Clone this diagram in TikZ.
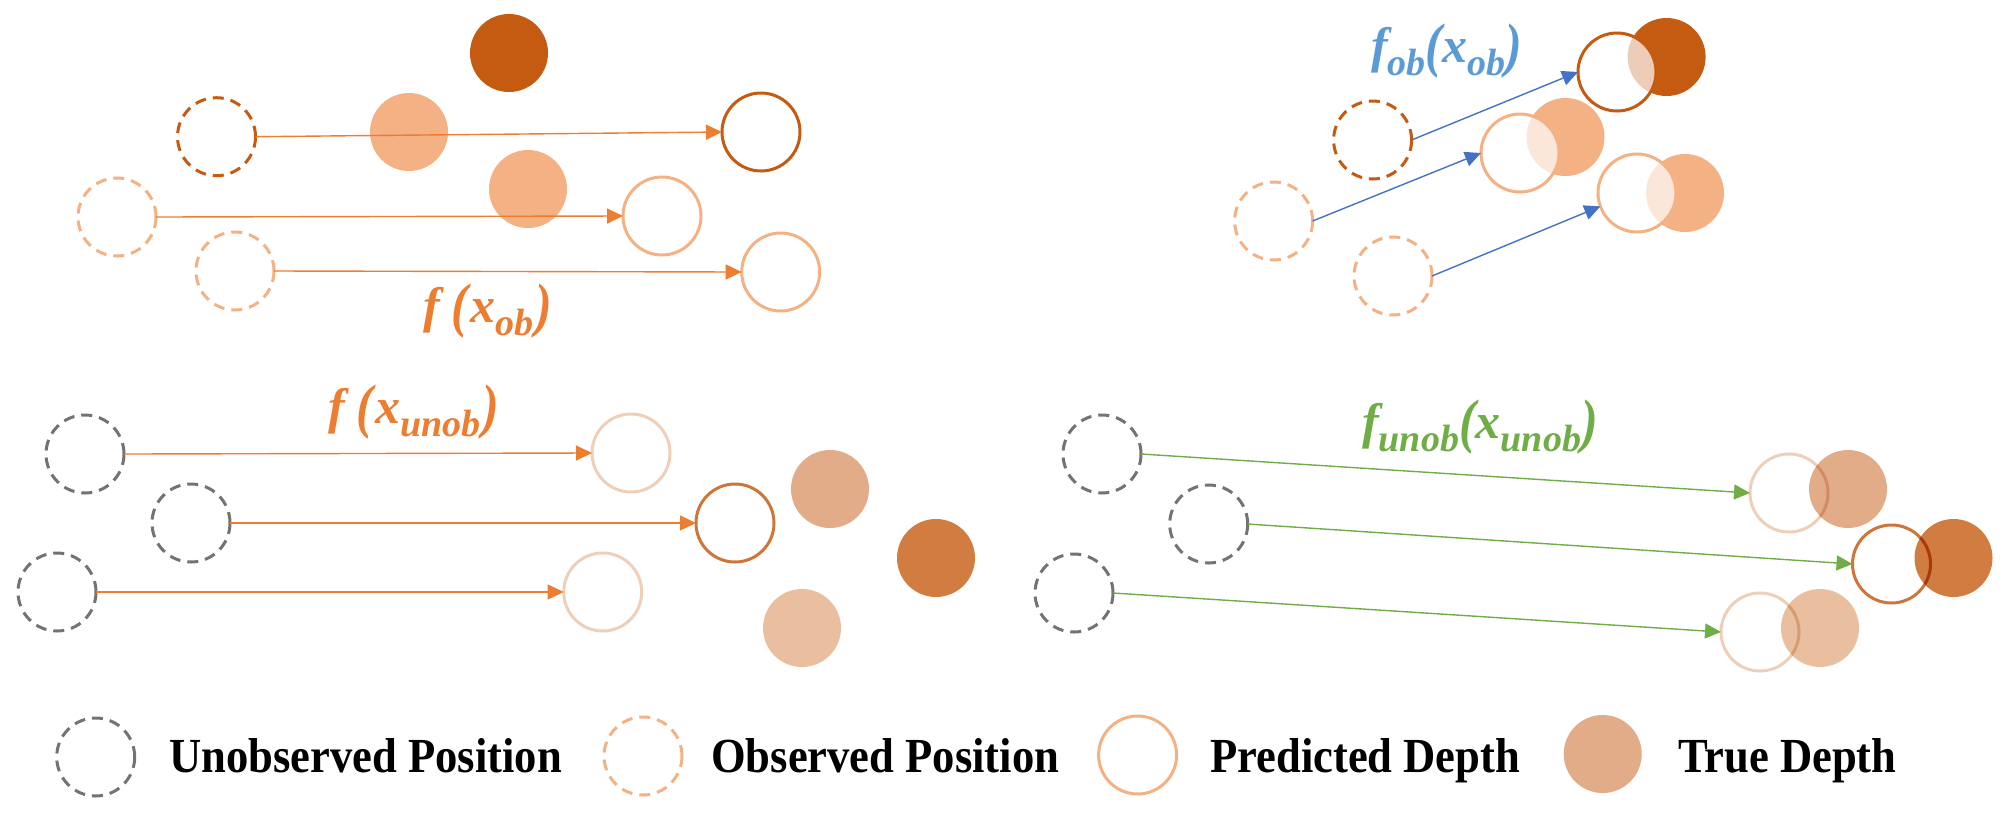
\documentclass[tikz,border=0pt]{standalone}
\usepackage{fontspec}
\usepackage{graphicx}
\setmainfont{Liberation Serif}
\newfontfamily\legfont[FakeStretch=0.91]{Liberation Serif}
\usetikzlibrary{arrows.meta}
\definecolor{dbrown}{HTML}{C55A11}
\definecolor{lorange}{HTML}{F4B183}
\definecolor{aorange}{HTML}{ED7D31}
\definecolor{ablue}{HTML}{4472C4}
\definecolor{lblue}{HTML}{5B9BD5}
\definecolor{agreen}{HTML}{70AD47}
\definecolor{ugray}{HTML}{737373}
\definecolor{ppale}{HTML}{EDCFBA}
\definecolor{pmid}{HTML}{CE763A}
\definecolor{tmid}{HTML}{E2AC88}
\definecolor{tdark}{HTML}{D17C40}
\definecolor{tpale}{HTML}{E9BF9F}
\newcommand{\lmain}{\bfseries\itshape\fontsize{50}{52}\selectfont}
\newcommand{\lsub}[1]{\raisebox{-13pt}{\fontsize{38}{40}\selectfont #1}}
\newcommand{\lpl}{\raisebox{-3pt}{\scalebox{1}[1.2]{(}}}
\newcommand{\lpr}{\raisebox{-3pt}{\scalebox{1}[1.2]{)}}}
\begin{document}
\begin{tikzpicture}[x=1pt,y=-1pt,
  circ/.style={circle,minimum size=78pt,inner sep=0pt,outer sep=0pt},
  obsv/.style={circ,line width=3pt,dash pattern=on 11pt off 7pt},
  pred/.style={circ,line width=3pt},
  truef/.style={circ},
  arr/.style={-{Triangle[length=16pt,width=15pt]},line width=1.4pt},
  legtext/.style={anchor=base west,inner sep=0pt,font=\legfont\bfseries\fontsize{49}{51}\selectfont},
  flabel/.style={anchor=base west,inner sep=0pt,font=\lmain}
]
\useasboundingbox (0,0) rectangle (2013,812);

% ---------- top left ----------
\node[truef,fill=dbrown] (tlt1) at (509,53) {};
\node[truef,fill=lorange] (tlt2) at (409,132) {};
\node[truef,fill=lorange] (tlt3) at (528,189) {};
\node[obsv,draw=dbrown] (tlo1) at (216.5,136.7) {};
\node[obsv,draw=lorange] (tlo2) at (117,217) {};
\node[obsv,draw=lorange] (tlo3) at (235,271) {};
\node[pred,draw=dbrown] (tlp1) at (761,132) {};
\node[pred,draw=lorange] (tlp2) at (662,216) {};
\node[pred,draw=lorange] (tlp3) at (780.7,272) {};
\draw[arr,aorange] (tlo1.east) -- (tlp1.west);
\draw[arr,aorange] (tlo2.east) -- (tlp2.west);
\draw[arr,aorange] (tlo3.east) -- (tlp3.west);
\node[flabel,text=aorange] (tllab) at (423,322) {f\hspace{12pt}\lpl\hspace{2pt}x\lsub{ob}\hspace{2pt}\lpr};

% ---------- top right ----------
\node[truef,fill=dbrown] (trt1) at (1666.6,57) {};
\node[truef,fill=lorange] (trt2) at (1565.5,137) {};
\node[truef,fill=lorange] (trt3) at (1685,193) {};
\node[pred,draw=dbrown,fill=white,fill opacity=0.7] (trp1) at (1617,72) {};
\node[pred,draw=lorange,fill=white,fill opacity=0.7] (trp2) at (1520,153) {};
\node[pred,draw=lorange,fill=white,fill opacity=0.7] (trp3) at (1637,193) {};
\node[obsv,draw=dbrown] (tro1) at (1372.6,140) {};
\node[obsv,draw=lorange] (tro2) at (1273.6,221) {};
\node[obsv,draw=lorange] (tro3) at (1393,276) {};
\draw[arr,ablue] (tro1.east) -- (trp1.west);
\draw[arr,ablue] (tro2.east) -- (trp2.west);
\draw[arr,ablue] (tro3.east) -- (trp3.200);
\node[flabel,text=lblue] (trlab) at (1371,62) {f\lsub{ob}\lpl x\lsub{ob}\lpr};

% ---------- bottom left ----------
\node[truef,fill=tmid] (blt1) at (830,489) {};
\node[truef,fill=tdark] (blt2) at (936,558) {};
\node[truef,fill=tpale] (blt3) at (802,628) {};
\node[obsv,draw=ugray] (blo1) at (85,454) {};
\node[obsv,draw=ugray] (blo2) at (191,523) {};
\node[obsv,draw=ugray] (blo3) at (57,592) {};
\node[pred,draw=ppale] (blp1) at (631,453) {};
\node[pred,draw=pmid] (blp2) at (735,523) {};
\node[pred,draw=ppale] (blp3) at (602.7,592) {};
\draw[arr,aorange] (blo1.east) -- (blp1.west);
\draw[arr,aorange] (blo2.east) -- (blp2.west);
\draw[arr,aorange] (blo3.east) -- (blp3.west);
\node[flabel,text=aorange] (bllab) at (328,423) {f\hspace{12pt}\lpl\hspace{2pt}x\lsub{unob}\hspace{2pt}\lpr};

% ---------- bottom right ----------
\node[truef,fill=tmid] (brt1) at (1848,489) {};
\node[truef,fill=tdark] (brt2) at (1953.5,558) {};
\node[truef,fill=tpale] (brt3) at (1820,628) {};
\begin{scope}[blend mode=multiply]
\node[pred,draw=ppale] (brp1) at (1789,493) {};
\node[pred,draw=pmid] (brp2) at (1891.5,564) {};
\node[pred,draw=ppale] (brp3) at (1760,632) {};
\end{scope}
\node[obsv,draw=ugray] (bro1) at (1102,454) {};
\node[obsv,draw=ugray] (bro2) at (1208.7,524) {};
\node[obsv,draw=ugray] (bro3) at (1074,593) {};
\draw[arr,agreen] (bro1.east) -- (brp1.west);
\draw[arr,agreen] (bro2.east) -- (brp2.west);
\draw[arr,agreen] (bro3.east) -- (brp3.west);
\node[flabel,text=agreen] (brlab) at (1362,438) {f\lsub{unob}\lpl x\lsub{unob}\lpr};

% ---------- legend ----------
\node[obsv,draw=ugray] (lgu) at (95.7,757) {};
\node[legtext] (lgut) at (169,772) {Unobserved Position};
\node[obsv,draw=lorange] (lgo) at (643,756) {};
\node[legtext] (lgot) at (711,772) {Observed Position};
\node[pred,draw=lorange] (lgp) at (1137.6,755) {};
\node[legtext] (lgpt) at (1210,772) {Predicted Depth};
\node[truef,fill=tmid] (lgt) at (1602.7,754) {};
\node[legtext] (lgtt) at (1678,772) {True Depth};
\end{tikzpicture}
\end{document}
